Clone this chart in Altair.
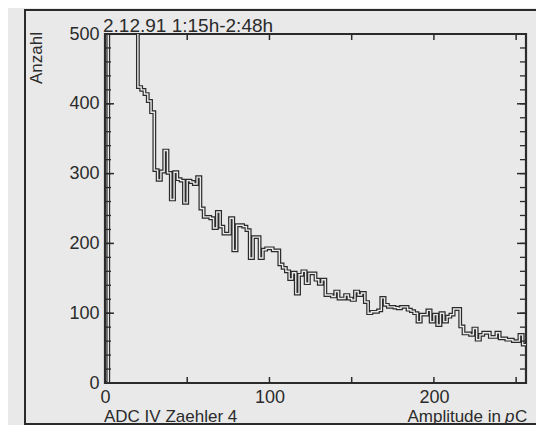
import altair as alt
import pandas as pd

# ---- data (bin width 2 pC) ----
bin_start = list(range(0, 256, 2))
counts = (
    [0] + [800] * 9 +                      # 0..18 : pedestal, off scale (>500)
    [424, 420, 414, 404, 388, 305, 291, 303, 333, 301,   # 20..38
     263, 302, 292, 290, 258, 290, 288, 285, 295, 250,   # 40..58
     238, 238, 236, 222, 245, 224, 214, 214, 236, 190,   # 60..78
     226, 226, 224, 219, 179, 209, 209, 179, 191, 193,   # 80..98
     193, 190, 190, 170, 165, 160, 149, 158, 128, 155,   # 100..118
     160, 143, 157, 157, 148, 142, 148, 126, 126, 124,   # 120..138
     131, 121, 121, 126, 121, 119, 131, 126, 129, 116,   # 140..158
     100, 102, 102, 104, 122, 112, 109, 109, 108, 107,   # 160..178
     109, 109, 105, 103, 100, 88, 98, 98, 104, 88,       # 180..198
     98, 83, 100, 88, 95, 98, 106, 106, 81, 71,          # 200..218
     71, 69, 78, 62, 69, 72, 72, 66, 66, 72,             # 220..238
     64, 64, 62, 62, 60, 60, 69, 55]                     # 240..254
)
x_end = 256
y_ticks_minor = list(range(0, 501, 20))
y_ticks_major = list(range(0, 501, 100))
x_ticks = [0, 50, 100, 150, 200, 250]
x_labels = [0, 100, 200]

title_text = "2.12.91 1:15h-2:48h"
ylabel_text = "Anzahl"
left_note = "ADC IV Zaehler 4"
xlabel_text = "Amplitude in"

W, H = 421, 349
BG = "#e9e9e9"
INK = "#2b2b2b"
FONT = "Liberation Sans"

xs = bin_start + [x_end]
ys = counts + [counts[-1]]
hist = pd.DataFrame({"x": xs, "y": ys})

xscale = alt.Scale(domain=[0, x_end], nice=False, zero=False)
yscale = alt.Scale(domain=[0, 500], nice=False)

base = alt.Chart(hist)

outer = base.mark_line(interpolate="step-after", color=INK, strokeWidth=3.8,
                       clip=True, strokeJoin="miter").encode(
    x=alt.X("x:Q", scale=xscale,
            axis=alt.Axis(values=x_labels, title=None, domain=False, ticks=False,
                          grid=False, labelFont=FONT, labelFontSize=18,
                          labelColor=INK, labelPadding=5, labelFlush=False)),
    y=alt.Y("y:Q", scale=yscale,
            axis=alt.Axis(values=y_ticks_major, title=None, domain=False, ticks=False,
                          grid=False, labelFont=FONT, labelFontSize=18,
                          labelColor=INK, labelPadding=6)),
)
inner = base.mark_line(interpolate="step-after", color=BG, strokeWidth=1.4,
                       clip=True, strokeJoin="miter").encode(
    x=alt.X("x:Q", scale=xscale), y=alt.Y("y:Q", scale=yscale))

# inward ticks
xt = pd.DataFrame({"t": x_ticks})
xbot = alt.Chart(xt).mark_rule(color=INK, strokeWidth=1.5).encode(
    x=alt.X("t:Q", scale=xscale), y=alt.value(H), y2=alt.value(H - 6))
xtop = alt.Chart(xt).mark_rule(color=INK, strokeWidth=1.5).encode(
    x=alt.X("t:Q", scale=xscale), y=alt.value(0), y2=alt.value(6))
ym = pd.DataFrame({"t": y_ticks_minor})
yleft = alt.Chart(ym).mark_rule(color=INK, strokeWidth=1.3).encode(
    y=alt.Y("t:Q", scale=yscale), x=alt.value(0), x2=alt.value(6))
yright = alt.Chart(ym).mark_rule(color=INK, strokeWidth=1.3).encode(
    y=alt.Y("t:Q", scale=yscale), x=alt.value(W), x2=alt.value(W - 6))
yM = pd.DataFrame({"t": y_ticks_major})
yrightM = alt.Chart(yM).mark_rule(color=INK, strokeWidth=1.5).encode(
    y=alt.Y("t:Q", scale=yscale), x=alt.value(W), x2=alt.value(W - 9))
yleftM = alt.Chart(yM).mark_rule(color=INK, strokeWidth=1.5).encode(
    y=alt.Y("t:Q", scale=yscale), x=alt.value(0), x2=alt.value(9))

one = pd.DataFrame({"a": [0]})
frame = alt.Chart(one).mark_rect(filled=False, stroke=INK, strokeWidth=2).encode(
    x=alt.value(-80), x2=alt.value(460), y=alt.value(-24), y2=alt.value(390))

def txt(text, x, y, align="left", size=17, angle=0, style="normal"):
    return alt.Chart(one).mark_text(
        text=text, align=align, baseline="middle", font=FONT, fontSize=size,
        color=INK, angle=angle, fontStyle=style).encode(
        x=alt.value(x), y=alt.value(y))

title = txt(title_text, -2, -8, size=19)
ylab = txt(ylabel_text, -68, -2, align="right", size=17, angle=270)
note = txt(left_note, -1, 383)
xlab = txt(xlabel_text, 396, 383, align="right")
xlab_p = txt("p", 400, 383, style="italic")
xlab_c = txt("C", 410, 383)

chart = alt.layer(frame, outer, inner, xbot, xtop, yleft, yright, yleftM, yrightM,
                  title, ylab, note, xlab, xlab_p, xlab_c).properties(
    width=W, height=H,
    autosize=alt.AutoSizeParams(type="none"),
    padding={"left": 97, "top": 26, "right": 10, "bottom": 42},
    background=BG,
).configure_view(stroke=INK, strokeWidth=2.2)

chart.save("out.html", embed_options={"renderer": "svg", "actions": False})
